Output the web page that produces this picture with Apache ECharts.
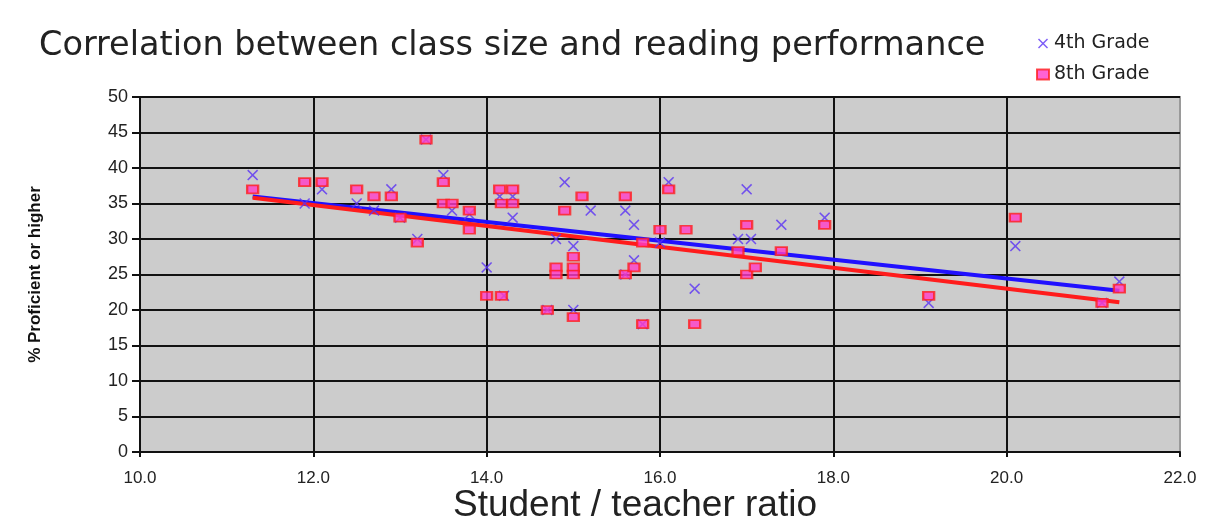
<!DOCTYPE html>
<html>
<head>
<meta charset="utf-8">
<script src="https://cdn.jsdelivr.net/npm/echarts@6/dist/echarts.min.js"></script>
<style>
  html, body { margin: 0; background: #fff; }
  #chart { width: 1219px; height: 520px; }
</style>
</head>
<body>
<div id="chart"></div>
<script>
// [student/teacher ratio, % proficient or higher]
const grade4 = [
  [11.3, 39], [11.9, 35], [12.1, 37], [12.5, 35], [12.7, 34], [12.9, 37],
  [13.0, 33], [13.2, 30], [13.3, 44], [13.5, 39], [13.6, 34], [13.8, 33.5],
  [14.0, 26], [14.15, 36], [14.3, 36], [14.3, 33], [14.2, 22], [14.7, 20],
  [14.8, 30], [14.9, 38], [15.0, 29], [15.0, 20], [15.2, 34], [15.6, 34],
  [15.6, 25], [15.7, 32], [15.7, 27], [15.8, 18], [16.0, 29.5], [16.1, 38],
  [16.4, 23], [16.9, 30], [17.05, 30], [17.0, 37], [17.4, 32], [17.9, 33],
  [19.1, 21], [20.1, 29], [21.1, 21], [21.3, 24]
]
const grade8 = [
  [11.3, 37], [11.9, 38], [12.1, 38], [12.5, 37], [12.7, 36], [12.9, 36],
  [13.0, 33], [13.2, 29.5], [13.3, 44], [13.5, 38], [13.5, 35], [13.6, 35],
  [13.8, 34], [13.8, 31.3], [14.0, 22], [14.15, 37], [14.3, 37], [14.17, 35],
  [14.3, 35], [14.17, 22], [14.7, 20], [14.8, 26], [14.8, 25], [14.9, 34],
  [15.0, 27.5], [15.0, 26], [15.0, 25], [15.0, 19], [15.1, 36], [15.6, 36],
  [15.6, 25], [15.7, 26], [15.8, 29.5], [15.8, 18], [16.0, 31.3], [16.3, 31.3],
  [16.1, 37], [16.4, 18], [16.9, 28.3], [17.0, 32], [17.0, 25], [17.1, 26],
  [17.4, 28.3], [17.9, 32], [19.1, 22], [20.1, 33], [21.1, 21], [21.3, 23]
]
// trendline end points
const trend4 = [[11.3, 36.0], [21.3, 22.7]]
const trend8 = [[11.3, 35.8], [21.3, 21.1]]

const crossPath = 'path://M0,1L1,0L5,4L9,0L10,1L6,5L10,9L9,10L5,6L1,10L0,9L4,5Z'

const chart = echarts.init(document.getElementById('chart'))

chart.setOption({
  animation: false,
  backgroundColor: '#fff',
  title: {
    text: 'Correlation between class size and reading performance',
    left: 34,
    top: 24,
    textStyle: {
      fontFamily: 'DejaVu Sans',
      fontSize: 33.5,
      fontWeight: 'normal',
      color: '#222'
    }
  },
  legend: {
    data: ['4th Grade', '8th Grade'],
    orient: 'vertical',
    left: 1031,
    top: 29,
    itemWidth: 12,
    itemHeight: 10,
    itemGap: 12,
    textStyle: {
      fontFamily: 'DejaVu Sans',
      fontSize: 19,
      color: '#222'
    }
  },
  grid: {
    left: 140,
    right: 39,
    top: 97,
    bottom: 68,
    outerBoundsMode: 'none',
    show: true,
    backgroundColor: '#cccccc',
    borderColor: '#9a9a9a',
    borderWidth: 2
  },
  xAxis: {
    type: 'value',
    min: 10,
    max: 22,
    interval: 2,
    name: 'Student / teacher ratio',
    nameLocation: 'middle',
    nameMoveOverlap: false,
    nameGap: 35,
    nameTextStyle: {
      fontFamily: 'Liberation Sans',
      fontSize: 37,
      color: '#222',
      padding: [0, 50, 0, 0]
    },
    axisLine: { lineStyle: { color: '#111', width: 2 } },
    axisTick: { show: true, length: 5, lineStyle: { color: '#111', width: 2 } },
    axisLabel: {
      margin: 18,
      fontFamily: 'Liberation Sans',
      fontSize: 17,
      color: '#222',
      formatter: v => v.toFixed(1)
    },
    splitLine: {
      show: true,
      showMaxLine: false,
      lineStyle: { color: '#111', width: 2 }
    }
  },
  yAxis: {
    type: 'value',
    min: 0,
    max: 50,
    interval: 5,
    name: '% Proficient or higher',
    nameLocation: 'middle',
    nameMoveOverlap: false,
    nameGap: 96,
    nameTextStyle: {
      fontFamily: 'Liberation Sans',
      fontSize: 17,
      fontWeight: 'bold',
      color: '#111'
    },
    axisLine: { show: true, lineStyle: { color: '#111', width: 2 } },
    axisTick: { show: true, length: 8, lineStyle: { color: '#111', width: 2 } },
    axisLabel: {
      margin: 12,
      fontFamily: 'Liberation Sans',
      fontSize: 18,
      color: '#222'
    },
    splitLine: {
      show: true,
      lineStyle: { color: '#111', width: 2 }
    }
  },
  series: [
    {
      type: 'line',
      data: trend4,
      symbol: 'none',
      silent: true,
      z: 2,
      lineStyle: { color: '#2010ff', width: 4 }
    },
    {
      type: 'line',
      data: trend8,
      symbol: 'none',
      silent: true,
      z: 2,
      lineStyle: { color: '#ff1c1c', width: 4 }
    },
    {
      name: '4th Grade',
      type: 'scatter',
      data: grade4,
      symbol: crossPath,
      symbolSize: 11,
      z: 3,
      itemStyle: { color: '#5a32f5' }
    },
    {
      name: '8th Grade',
      type: 'scatter',
      data: grade8,
      symbol: 'rect',
      symbolSize: [11, 8],
      z: 4,
      itemStyle: { color: '#ff3cc8', borderColor: '#ff1e1e', borderWidth: 2 }
    }
  ]
})
</script>
</body>
</html>
